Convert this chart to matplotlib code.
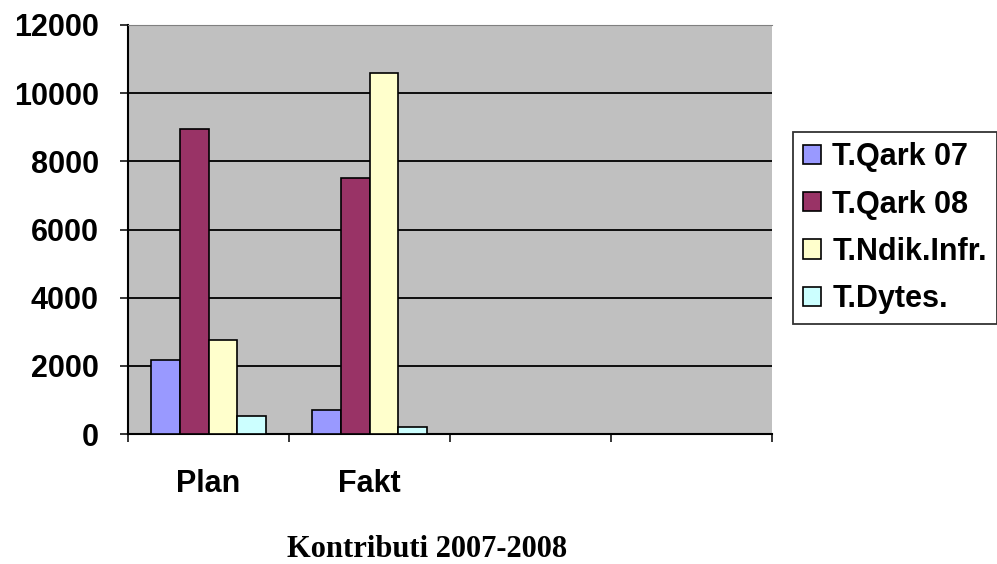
import numpy as np
import matplotlib
matplotlib.use('Agg')
import matplotlib.pyplot as plt
from matplotlib.patches import Patch

categories = ['Plan', 'Fakt', '', '']
series_names = ['T.Qark 07', 'T.Qark 08', 'T.Ndik.Infr.', 'T.Dytes.']
qark07 = [2180, 700, 0, 0]
qark08 = [8950, 7500, 0, 0]
ndik_infr = [2750, 10600, 0, 0]
dytes = [520, 220, 0, 0]
series_values = [qark07, qark08, ndik_infr, dytes]
series_colors = ['#9999ff', '#993366', '#ffffcc', '#ccffff']
yticks = [0, 2000, 4000, 6000, 8000, 10000, 12000]
title = 'Kontributi 2007-2008'

fs = 22
fig = plt.figure(figsize=(9.97, 5.64), dpi=100)
ax = fig.add_axes([128/997, 1 - 434/564, 644/997, 409/564])
ax.set_facecolor('#c0c0c0')

x = np.arange(len(categories))
w = 0.18
for i, (vals, col) in enumerate(zip(series_values, series_colors)):
    ax.bar(x + (i - 1.5) * w, vals, width=w, color=col, edgecolor='black',
           linewidth=1.2, zorder=3)

ax.set_xlim(-0.5, 3.5)
ax.set_ylim(0, 12000)
ax.set_yticks(yticks)
ax.set_yticklabels([str(v) for v in yticks], fontsize=fs, fontweight='bold',
                   family='Liberation Sans')
ax.yaxis.grid(True, color='black', linewidth=1.3, zorder=1)
ax.set_axisbelow(True)

ax.set_xticks(x)
ax.set_xticklabels(categories, fontsize=fs, fontweight='bold', family='Liberation Sans')
ax.set_xticks(np.arange(-0.5, 4.0, 1.0), minor=True)
ax.tick_params(axis='x', which='major', length=0, pad=25)
ax.tick_params(axis='x', which='minor', length=6, width=1.1, direction='out')
ax.tick_params(axis='y', length=6, width=1.1, direction='out', pad=15)

ax.spines['right'].set_visible(False)
ax.spines['top'].set_color('#808080')
ax.spines['left'].set_linewidth(1.5)
ax.spines['bottom'].set_linewidth(1.5)

handles = [Patch(facecolor=c, edgecolor='black', linewidth=1.2) for c in series_colors]
leg = fig.legend(handles, series_names, loc='upper left',
                 bbox_to_anchor=(793/997, 1 - 132/564),
                 prop={'family': 'Liberation Sans', 'weight': 'bold', 'size': fs},
                 frameon=True, fancybox=False, edgecolor='black',
                 handlelength=0.6, handleheight=0.6, handletextpad=0.36,
                 labelspacing=0.57, borderpad=0.33, borderaxespad=0)
leg.get_frame().set_linewidth(1.3)

fig.text(427/997, 7/564, title, ha='center', va='baseline', fontsize=fs,
         fontweight='bold', family='Liberation Serif')

fig.savefig('out.png', dpi=100)
